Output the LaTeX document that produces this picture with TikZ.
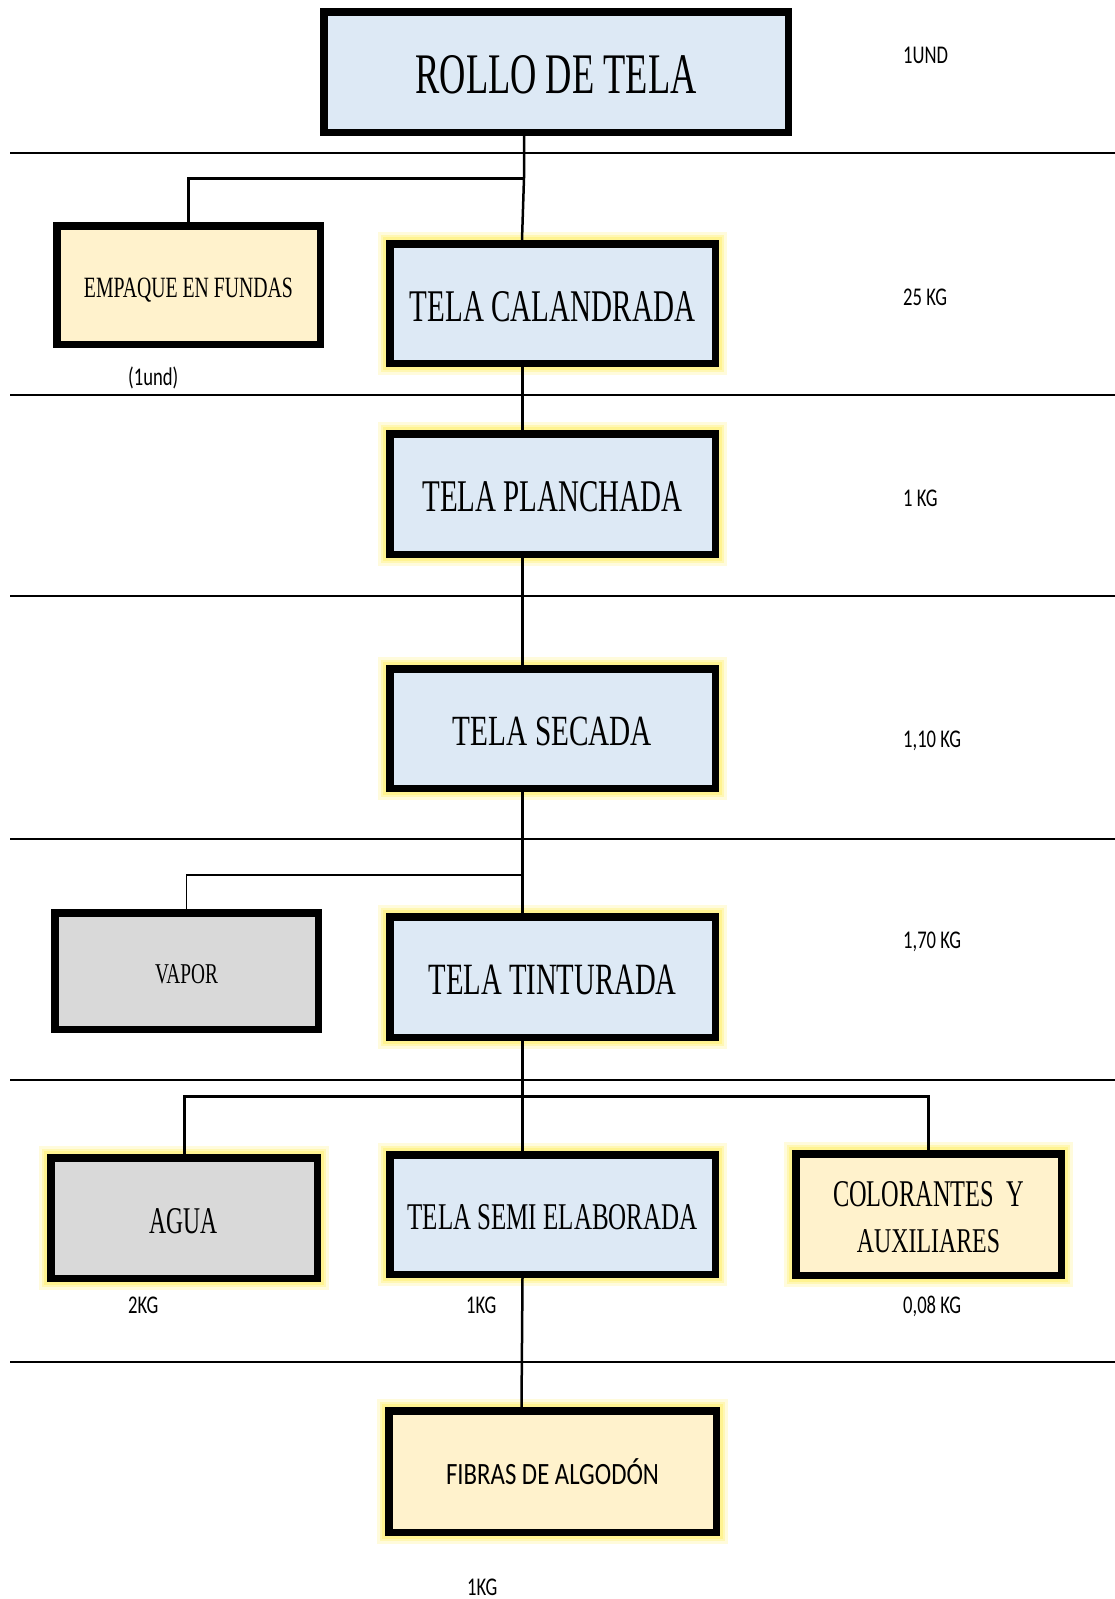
\documentclass[tikz,border=0pt]{standalone}
\usepackage{fontspec}
\usepackage{graphicx}
\newfontfamily\tnrfont{Liberation Serif}
\newfontfamily\clbfont{Carlito}
\definecolor{bluefill}{RGB}{221,233,245}
\definecolor{creamfill}{RGB}{255,242,204}
\definecolor{grayfill}{RGB}{217,217,217}
\definecolor{glowc}{RGB}{255,243,140}
\newcommand{\boxtxt}[3]{\raisebox{-2.5pt}[#2pt][0pt]{\resizebox{#1pt}{#2pt}{\tnrfont #3}}}
\newcommand{\lbltxt}[1]{\scalebox{0.73}[1]{\clbfont\fontsize{25.5}{25.5}\selectfont #1}}
\tikzset{
  pbox/.style={draw=black, line width=7.5pt, rectangle, inner sep=0pt, align=center},
  glow/.style={preaction={draw=glowc, line width=24pt, draw opacity=0.3},
               preaction={draw=glowc, line width=18pt, draw opacity=0.5},
               preaction={draw=glowc, line width=13pt, draw opacity=0.9}},
  sep/.style={line width=2pt, black},
  conn/.style={line width=2.5pt, black},
  thickconn/.style={line width=3pt, black},
  thinconn/.style={line width=1.4pt, black},
  lbl/.style={anchor=base west, inner sep=0pt}
}
\begin{document}
\begin{tikzpicture}[x=1pt,y=-1pt]
\useasboundingbox (0,0) rectangle (1115,1599);
% separators
\foreach \yy in {152.7,395,596,838.5,1080,1362}{
  \draw[sep] (10,\yy) -- (1115,\yy);
}
% boxes
\node[pbox, fill=bluefill, minimum width=464.5pt, minimum height=120.5pt] (rollo) at (556,72) {\boxtxt{281}{38}{ROLLO DE TELA}};
\node[pbox, fill=creamfill, minimum width=263.5pt, minimum height=118.5pt] (emp) at (188.5,285) {\boxtxt{209}{19.5}{EMPAQUE EN FUNDAS}};
\node[pbox, glow, fill=bluefill, minimum width=325.5pt, minimum height=119.5pt] (cal) at (552.5,303.5) {\boxtxt{285}{30}{TELA CALANDRADA}};
\node[pbox, glow, fill=bluefill, minimum width=325.5pt, minimum height=120.5pt] (plan) at (552.5,494) {\boxtxt{260}{30}{TELA PLANCHADA}};
\node[pbox, glow, fill=bluefill, minimum width=325.5pt, minimum height=119.5pt] (sec) at (552.5,728.5) {\boxtxt{199}{28.5}{TELA SECADA}};
\node[pbox, fill=grayfill, minimum width=263.5pt, minimum height=116.5pt] (vapor) at (186.5,971) {\boxtxt{63}{19}{VAPOR}};
\node[pbox, glow, fill=bluefill, minimum width=325.5pt, minimum height=120.5pt] (tint) at (552.5,977) {\boxtxt{248}{29.5}{TELA TINTURADA}};
\node[pbox, glow, fill=grayfill, minimum width=266.5pt, minimum height=120.5pt] (agua) at (184,1218) {\boxtxt{68}{25}{AGUA}};
\node[pbox, glow, fill=bluefill, minimum width=325.5pt, minimum height=119.5pt] (semi) at (552.5,1214.5) {\boxtxt{290}{25}{TELA SEMI ELABORADA}};
\node[pbox, glow, fill=creamfill, minimum width=265.5pt, minimum height=121.5pt] (col) at (928.5,1214.5) {\boxtxt{191}{25}{COLORANTES\ \ Y}\\[22pt]\boxtxt{143}{23}{AUXILIARES}};
\node[pbox, glow, fill=creamfill, minimum width=327.5pt, minimum height=121.5pt] (fib) at (552.5,1471.5) {\scalebox{0.8}[1]{\clbfont\fontsize{31}{31}\selectfont FIBRAS DE ALGODÓN}};
% junction coordinates
\coordinate (j1) at (524,178);
\coordinate (j2) at (522.5,875);
\coordinate (j3) at (522.5,1096);
% connectors
\draw[conn] ([xshift=-32pt]rollo.south) -- (j1) -- ([xshift=-30.5pt]cal.north);
\draw[thickconn] (j1) -| (emp.north);
\draw[conn] ([xshift=-30pt]cal.south) -- ([xshift=-30pt]plan.north);
\draw[conn] ([xshift=-30pt]plan.south) -- ([xshift=-30pt]sec.north);
\draw[conn] ([xshift=-30pt]sec.south) -- ([xshift=-30pt]tint.north);
\draw[thinconn] (j2) -| (vapor.north);
\draw[conn] ([xshift=-30pt]tint.south) -- ([xshift=-30pt]semi.north);
\draw[thickconn] (agua.north) |- (j3) -| (col.north);
\draw[conn] ([xshift=-30pt]semi.south) -- ([xshift=-31pt]fib.north);
% labels
\node[lbl] (l1) at (903,63) {\lbltxt{1UND}};
\node[lbl] (l2) at (903,305) {\lbltxt{25 KG}};
\node[lbl] (l3) at (903,506) {\lbltxt{1 KG}};
\node[lbl] (l4) at (903,747) {\lbltxt{1,10 KG}};
\node[lbl] (l5) at (903,948) {\lbltxt{1,70 KG}};
\node[lbl] (l6) at (128,385) {\lbltxt{(1und)}};
\node[lbl] (l7) at (128,1313) {\lbltxt{2KG}};
\node[lbl] (l8) at (466,1313) {\lbltxt{1KG}};
\node[lbl] (l9) at (903,1313) {\lbltxt{0,08 KG}};
\node[lbl] (l10) at (467,1595) {\lbltxt{1KG}};
\end{tikzpicture}
\end{document}
